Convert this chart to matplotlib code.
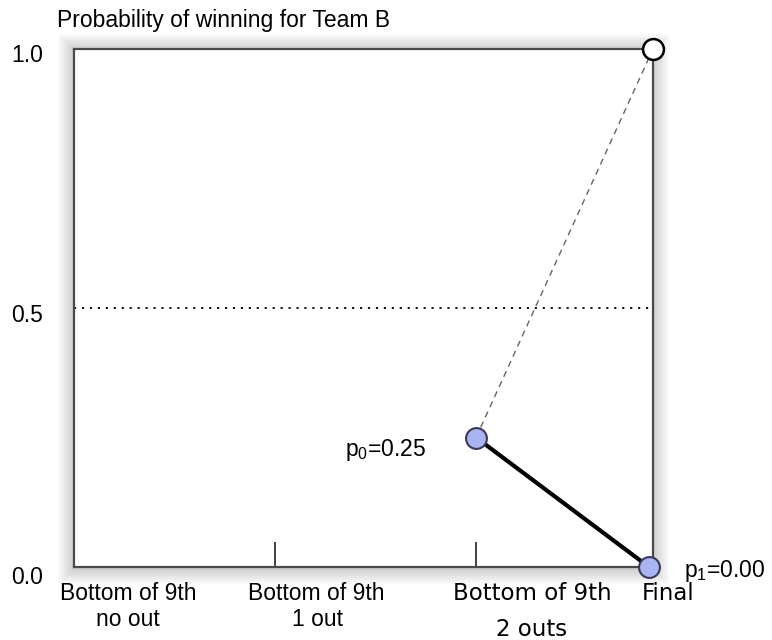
import matplotlib.pyplot as plt
from matplotlib.patches import Rectangle

plt.rcParams['font.family'] = ['Liberation Sans', 'DejaVu Sans']
plt.rcParams['mathtext.fontset'] = 'custom'
plt.rcParams['mathtext.rm'] = 'Liberation Sans'
plt.rcParams['mathtext.it'] = 'Liberation Sans'

# data
stage_x = [2, 2.86]          # "2 outs" and "Final"
win_prob = [0.25, 0.00]      # p0, p1
alt_x = [2, 2.88]
alt_prob = [0.25, 1.0]       # dashed alternative: Team B wins
half_line = 0.5
tick_x = [1, 2]
y_labels = ["1.0", "0.5", "0.0"]

W, H = 772, 640
fig = plt.figure(figsize=(W / 100, H / 100), dpi=100)

# plot frame in pixels: left 74, right 653, top 49, bottom 567
L, R, T, B = 74, 653, 49, 567
ax = fig.add_axes([L / W, 1 - B / H, (R - L) / W, (B - T) / H])
ax.set_facecolor('white')
ax.set_zorder(2)
ax.set_xlim(0, 2.88)
ax.set_ylim(0, 1)

# soft glow/shadow outside the frame
for k in range(1, 9):
    fig.patches.append(Rectangle(((L - 2 * k) / W, 1 - (B + 2 * k + 1) / H),
                                 (R - L + 4 * k) / W, (B - T + 4 * k) / H,
                                 transform=fig.transFigure, facecolor='black',
                                 edgecolor='none', alpha=0.025, zorder=0))

for sp in ax.spines.values():
    sp.set_color('#4a4a4a')
    sp.set_linewidth(1.6)

ax.set_xticks(tick_x)
ax.set_xticklabels([])
ax.tick_params(axis='x', direction='in', length=18, width=1.3, color='#333333')
ax.set_yticks([])

ax.axhline(half_line, color='black', lw=1.3, ls=(0, (1.2, 3.2)), zorder=2)
ax.plot(alt_x, alt_prob, color='#666666', lw=1.0, ls=(0, (4.5, 3.5)), zorder=2)
ax.plot(stage_x, win_prob, color='black', lw=3, zorder=4)
ax.plot(stage_x, win_prob, 'o', ms=15, mfc='#aab4f2', mec='#3a3a55', mew=1.5,
        zorder=5, clip_on=False)
ax.plot(alt_x[-1], alt_prob[-1], 'o', ms=15, mfc='white', mec='black', mew=1.8,
        zorder=5, clip_on=False)


def ptext(x, y, s, **kw):
    kw.setdefault('fontsize', 16.5)
    fig.text(x / W, 1 - y / H, s, **kw)


ptext(57, 20, "Probability of winning for Team B", ha='left', va='center')
for lab, yp in zip(y_labels, [55, 315, 578]):
    ptext(43, yp, lab, ha='right', va='center')

ptext(128, 593, "Bottom of 9th", ha='center', va='center')
ptext(128, 620, "no out", ha='center', va='center')
ptext(316, 593, "Bottom of 9th", ha='center', va='center')
ptext(318, 620, "1 out", ha='center', va='center')
ptext(532, 593, "Bottom of 9th", ha='center', va='center', family='DejaVu Sans', fontsize=16.5)
ptext(532, 630, "2 outs", ha='center', va='center', family='DejaVu Sans', fontsize=16.5)
ptext(668, 593, "Final", ha='center', va='center', family='DejaVu Sans', fontsize=16.5)

ptext(426, 456, r'p$_0$=0.25', ha='right', va='baseline')
ptext(684, 577, r'p$_1$=0.00', ha='left', va='baseline')

fig.savefig('out.png', dpi=100)
